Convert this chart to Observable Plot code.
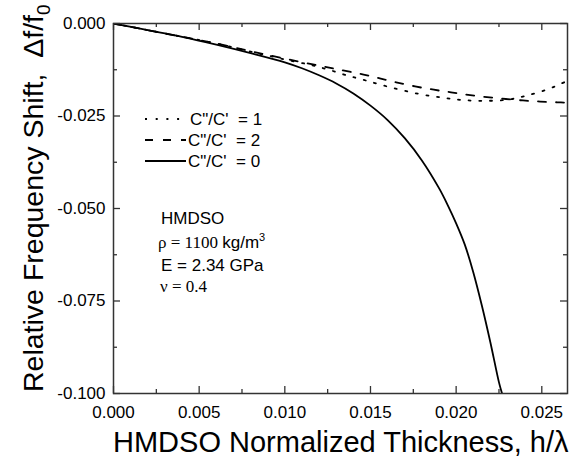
<!DOCTYPE html>
<html><head><meta charset="utf-8">
<script src="https://cdn.jsdelivr.net/npm/d3@7"></script>
<script src="https://cdn.jsdelivr.net/npm/@observablehq/plot@0.6"></script>
<style>body{margin:0;background:#fff}#chart svg{display:block}</style>
</head><body><div id="chart"></div>
<script>
// ---- data ----
const xMajor = [0, 0.005, 0.010, 0.015, 0.020, 0.025];
const xMinor = [0.0025, 0.0075, 0.0125, 0.0175, 0.0225];
const yMajor = [0, -0.025, -0.050, -0.075, -0.100];
const yMinor = [-0.0125, -0.0375, -0.0625, -0.0875];

// C''/C' = 0 (solid)
const hC0 = [0, 0.002, 0.004, 0.006, 0.008, 0.010, 0.011, 0.012, 0.013, 0.014, 0.015, 0.016, 0.017, 0.018, 0.019, 0.0195, 0.020, 0.0205, 0.021, 0.0215, 0.022, 0.0225, 0.02268];
const dfC0 = [0, -0.0018, -0.0036, -0.0057, -0.0080, -0.0105, -0.0121, -0.0140, -0.0162, -0.0189, -0.0222, -0.0261, -0.0310, -0.0370, -0.0445, -0.0490, -0.0540, -0.0597, -0.0672, -0.0762, -0.0862, -0.0970, -0.1000];
// C''/C' = 2 (dashed)
const hC2 = [0, 0.002, 0.004, 0.006, 0.008, 0.010, 0.012, 0.0134, 0.0146, 0.0156, 0.0165, 0.0176, 0.0187, 0.0197, 0.0207, 0.0218, 0.0229, 0.0239, 0.0249, 0.0259, 0.0265];
const dfC2 = [0, -0.0018, -0.0036, -0.0054, -0.0075, -0.0095, -0.0114, -0.0127, -0.0138, -0.0149, -0.0159, -0.0170, -0.0179, -0.0186, -0.0193, -0.0199, -0.0204, -0.0208, -0.0211, -0.0213, -0.0214];
// C''/C' = 1 (dotted)
const hC1 = [0, 0.002, 0.004, 0.006, 0.008, 0.010, 0.0115, 0.0125, 0.0136, 0.0148, 0.0162, 0.0179, 0.0193, 0.0204, 0.0216, 0.0230, 0.0241, 0.0254, 0.0260, 0.0265];
const dfC1 = [0, -0.0018, -0.0036, -0.0054, -0.0076, -0.0097, -0.0112, -0.0124, -0.0140, -0.0155, -0.0173, -0.0191, -0.0201, -0.0207, -0.0209, -0.0206, -0.0195, -0.0177, -0.0165, -0.0155];

const legendLabels = ["C\"/C'  = 1", "C\"/C'  = 2", "C\"/C'  = 0"];
const xTitle = "HMDSO Normalized Thickness, h/\u03bb";
const yTitle = "Relative Frequency Shift,  \u0394f/f";
const yTitleSub = "0";

// ---- layout / style ----
const W = 570, H = 459, mL = 113, mR = 3, mT = 23, mB = 66;
const fw = W - mL - mR, fh = H - mT - mB;
const DOT = "2,8.7", DASH = "8,10";
const sans = "'Liberation Sans', Arial, sans-serif";
const serif = "'Liberation Serif', 'Times New Roman', serif";
const fmt = d => (Math.abs(d) < 1e-12 ? 0 : d).toFixed(3);
const rows = (xs, ys) => xs.map((x, i) => ({x, y: ys[i]}));

function decorations(index, scales, values, dims) {
  const g = d3.create("svg:g").attr("fill", "#000").attr("font-family", sans).attr("text-anchor", "start");
  // legend
  const dashes = [DOT, DASH, null];
  legendLabels.forEach((lab, i) => {
    const y = mT + 96 + i * 21;
    g.append("line").attr("x1", mL + 32).attr("x2", mL + 73).attr("y1", y).attr("y2", y)
      .attr("stroke", "#000").attr("stroke-width", 1.8).attr("stroke-dasharray", dashes[i]);
    g.append("text").attr("x", mL + 75 + (i === 0 ? 2 : 0)).attr("y", y).attr("dy", "0.36em")
      .attr("font-size", 17).text(lab);
  });
  // annotation block
  const ax = mL + 48;
  g.append("text").attr("x", ax).attr("y", mT + 201).attr("font-size", 17).text("HMDSO");
  const t2 = g.append("text").attr("x", ax - 3).attr("y", mT + 224.5).attr("font-size", 17);
  t2.append("tspan").attr("font-family", serif).text("\u03c1 = 1100 ");
  t2.append("tspan").text("kg/m");
  t2.append("tspan").attr("font-size", 11).attr("dy", -7).text("3");
  g.append("text").attr("x", ax).attr("y", mT + 248).attr("font-size", 17).text("E = 2.34 GPa");
  g.append("text").attr("x", ax - 1).attr("y", mT + 269).attr("font-size", 17)
    .attr("font-family", serif).text("\u03bd = 0.4");
  // axis titles
  g.append("text").attr("x", mL).attr("y", H - 7).attr("font-size", 29).text(xTitle);
  const yt = g.append("text").attr("transform", `translate(43,${mT + fh - 1}) rotate(-90)`)
    .attr("font-size", 28.5);
  yt.append("tspan").text(yTitle);
  yt.append("tspan").attr("font-size", 19).attr("dy", 7).text(yTitleSub);
  return g.node();
}

const tickStyle = {stroke: "#333", strokeWidth: 1.3};
const chart = Plot.plot({
  width: W, height: H,
  marginLeft: mL, marginRight: mR, marginTop: mT, marginBottom: mB,
  style: {fontFamily: sans, fontSize: "17px", color: "#000", background: "#fff"},
  x: {domain: [0, 0.0265]},
  y: {domain: [-0.1, 0]},
  marks: [
    Plot.axisX(xMajor, {tickSize: 0, tickPadding: 12, tickFormat: fmt, label: null, fontSize: 17}),
    Plot.axisY(yMajor, {tickSize: 0, tickPadding: 8, tickFormat: fmt, label: null, fontSize: 17}),
    // inward ticks on all four sides
    Plot.tickX(xMajor, {x: d => d, insetTop: fh - 7, ...tickStyle}),
    Plot.tickX(xMajor, {x: d => d, insetBottom: fh - 7, ...tickStyle}),
    Plot.tickX(xMinor, {x: d => d, insetTop: fh - 4, ...tickStyle}),
    Plot.tickX(xMinor, {x: d => d, insetBottom: fh - 4, ...tickStyle}),
    Plot.tickY(yMajor, {y: d => d, insetRight: fw - 7, ...tickStyle}),
    Plot.tickY(yMajor, {y: d => d, insetLeft: fw - 7, ...tickStyle}),
    Plot.tickY(yMinor, {y: d => d, insetRight: fw - 4, ...tickStyle}),
    Plot.tickY(yMinor, {y: d => d, insetLeft: fw - 4, ...tickStyle}),
    Plot.line(rows(hC1, dfC1), {x: "x", y: "y", stroke: "#000", strokeWidth: 1.8, strokeDasharray: DOT, curve: "catmull-rom", clip: true}),
    Plot.line(rows(hC2, dfC2), {x: "x", y: "y", stroke: "#000", strokeWidth: 1.8, strokeDasharray: DASH, curve: "catmull-rom", clip: true}),
    Plot.line(rows(hC0, dfC0), {x: "x", y: "y", stroke: "#000", strokeWidth: 1.8, curve: "catmull-rom", clip: true}),
    Plot.frame({stroke: "#333", strokeWidth: 1.5}),
    decorations
  ]
});
document.getElementById("chart").appendChild(chart);
</script>
</body></html>
